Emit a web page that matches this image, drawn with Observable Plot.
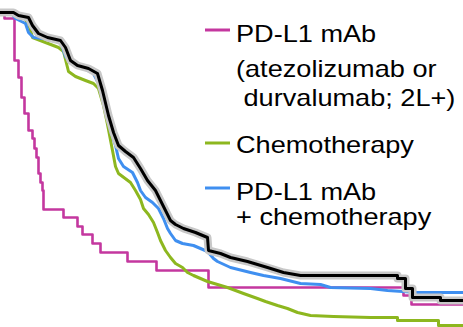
<!DOCTYPE html>
<html><head><meta charset="utf-8">
<script src="https://cdn.jsdelivr.net/npm/d3@7"></script>
<script src="https://cdn.jsdelivr.net/npm/@observablehq/plot@0.6"></script>
<style>
html,body{margin:0;padding:0;background:#fff;}
#wrap{position:relative;width:463px;height:327px;overflow:hidden;}
#wrap svg{position:absolute;left:0;top:0;}
</style></head><body><div id="wrap"></div>
<script>
// Time in months, survival in percent
const pdl1Months = [0,0.4,1.4,1.8,2.1,2.4,2.8,3.2,3.4,3.6,3.8,4.0,4.2,4.3,6.3,7.7,8.2,9.2,10.0,12.7,15.6,20.8,40.3,41.1,46.3];
const pdl1Surv   = [100,98.5,88,83.75,78.75,74.75,70.5,68.5,66,63.75,59.75,57.5,55.5,50.75,48.75,46.5,44.5,42.25,40,37.75,35.5,31.25,29.25,27,27];

const chemoMonths = [0,0.6,1.7,2.5,2.8,3.2,4.5,5.8,6.3,6.8,7.5,8.5,9.3,9.8,10.3,10.7,11.2,11.5,11.8,13.0,13.5,14.0,14.3,14.8,15.3,15.7,16.0,16.5,17.0,17.5,18.2,18.7,19.3,20.7,22.7,24.3,25.7,26.5,27.7,28.7,29.7,31.0,33.3,37.0,39.7,39.7,43.8,43.8,46.3];
const chemoSurv   = [100,100,99.25,98.25,97.25,93.75,92.5,91.25,90.25,85.25,84,83,82.25,81,76.75,72,65.5,61.5,59.75,57.5,55.5,53.25,51,49.5,47.5,45,43,40.5,38.75,37.25,36.25,35,34.25,32.75,31.25,29.75,28.5,27.75,26.75,26,25,24.25,24,23.75,23.75,23,23,21.75,21.75];

const comboMonths = [0,1.2,1.5,2.5,2.8,3.3,4.3,6.0,6.5,7.0,8.3,9.3,9.8,10.3,10.7,11.0,11.5,11.8,12.3,13.2,13.7,14.0,14.5,15.2,15.8,16.3,16.7,17.0,17.5,18.2,19.3,20.7,21.3,21.7,23.0,25.0,26.3,28.0,30.0,32.0,33.0,37.0,38.7,41.7,46.3];
const comboSurv   = [99.75,99.5,98.5,97.25,95,93.75,93.5,92.5,89,87.5,86,84.75,82.25,78,74.25,70.5,66.75,63.5,61.5,60,57.5,55.5,53.75,52.5,51,48.5,46,44.75,43,42.25,41.75,40.25,38.5,37.75,36.25,35,34.25,33.5,32.25,32,31.25,31,30.5,30,30];

const allMonths = [0,1.3,1.8,2.8,3.2,3.8,4.7,6.0,6.5,7.0,7.7,8.8,9.7,10.2,10.8,11.3,11.8,12.5,13.3,14.0,14.7,15.5,16.0,16.5,17.0,17.5,18.3,19.5,20.7,20.8,22.0,23.0,24.7,25.7,26.7,28.3,30.0,39.7,39.7,40.5,40.5,41.2,41.2,44.0,44.0,46.3];
const allSurv   = [100,100,99.25,98.75,96.75,94.75,93.75,93,91.25,88,86.75,86,84.75,80.5,74.25,70,66.75,65.25,63.75,61,58,55.5,53,50.5,48,47,46,45,43.75,40.5,39.75,38.75,37.75,37,36.25,35,34.25,34.25,33.5,33.5,31,31,28.75,28.75,28,28];

const legendLabels = [
  ["PD-L1 mAb", "(atezolizumab or", " durvalumab; 2L+)"],
  ["Chemotherapy"],
  ["PD-L1 mAb", "+ chemotherapy"]
];
const colors = {pdl1: "#c4379f", chemo: "#8db71f", combo: "#3f8ff0", all: "#000000"};

const rows = (ts, ss) => ts.map((t, i) => ({t, s: ss[i]}));
const pdl1 = rows(pdl1Months, pdl1Surv);
const chemo = rows(chemoMonths, chemoSurv);
const combo = rows(comboMonths, comboSurv);
const all = rows(allMonths, allSurv);

const chart = Plot.plot({
  width: 463, height: 327, margin: 0,
  x: {domain: [0, 46.3], range: [0, 463], axis: null},
  y: {domain: [0, 100], range: [412, 12], axis: null},
  marks: [
    Plot.line(pdl1, {x: "t", y: "s", curve: "step-after", stroke: colors.pdl1, strokeWidth: 2.6}),
    Plot.line(chemo, {x: "t", y: "s", stroke: colors.chemo, strokeWidth: 3}),
    Plot.line(combo, {x: "t", y: "s", stroke: colors.combo, strokeWidth: 3}),
    Plot.line(all, {x: "t", y: "s", stroke: "#c8c8c8", strokeWidth: 8}),
    Plot.line(all, {x: "t", y: "s", stroke: colors.all, strokeWidth: 3})
  ]
});
const wrap = document.getElementById("wrap");
wrap.appendChild(chart);

// Legend overlay
const legendColors = [colors.pdl1, colors.chemo, colors.combo];
const swatchY = [30, 143, 188];
const baselines = [[42, 77, 106], [153], [200, 225]];
const lg = d3.create("svg").attr("width", 463).attr("height", 327)
  .style("font-family", "'Liberation Sans', Arial, sans-serif").style("font-size", "23px");
legendLabels.forEach((lines, i) => {
  lg.append("line").attr("x1", 205).attr("x2", 230).attr("y1", swatchY[i]).attr("y2", swatchY[i])
    .attr("stroke", legendColors[i]).attr("stroke-width", 3);
  lines.forEach((txt, j) => {
    lg.append("text").attr("transform", `translate(236,${baselines[i][j]}) scale(1.18,1)`)
      .attr("fill", "#000").style("white-space", "pre").attr("xml:space", "preserve").text(txt);
  });
});
wrap.appendChild(lg.node());
</script></body></html>
